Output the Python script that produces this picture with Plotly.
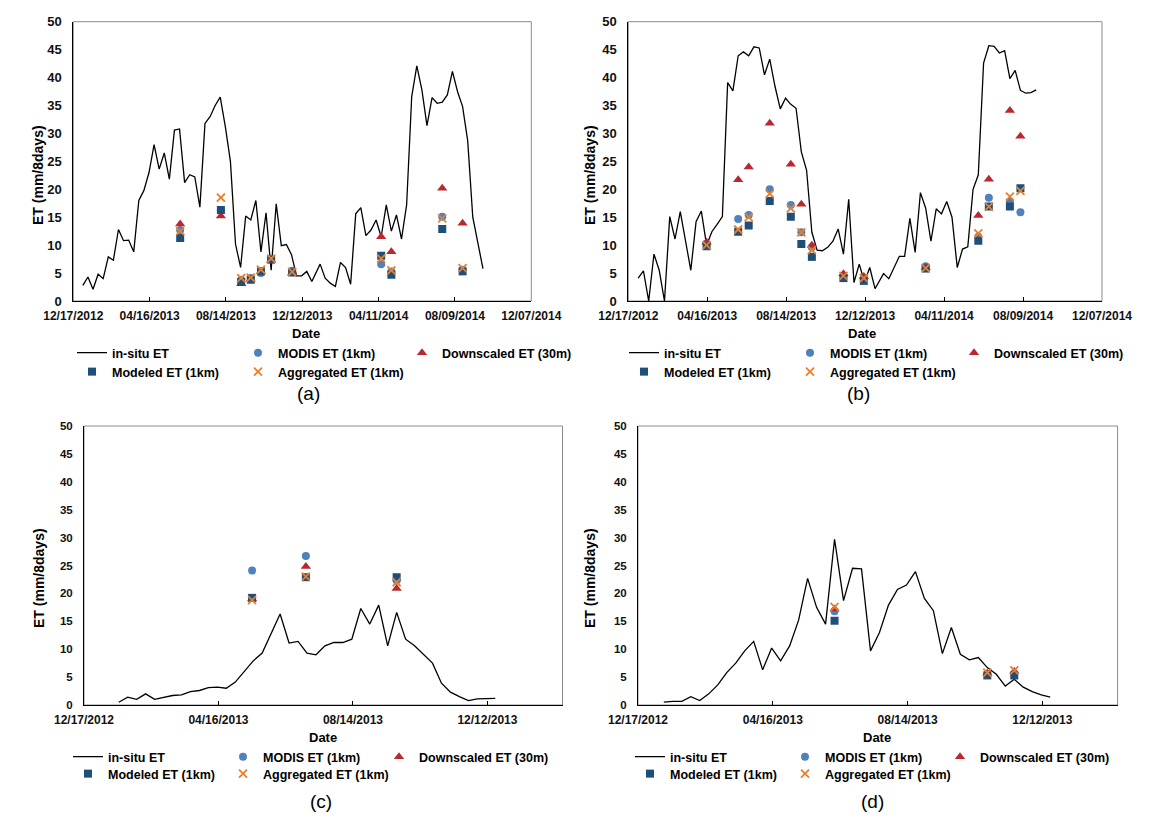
import plotly.graph_objects as go

# page body has an 8px default margin, so the figure is drawn 8px in from the top-left corner
PAGE_OFF = 8
W, H = 1155 - PAGE_OFF, 826 - PAGE_OFF

# ---------------- data ----------------
# 8-day composite dates
dates_2013 = ["2013-01-01", "2013-01-09", "2013-01-17", "2013-01-25", "2013-02-02", "2013-02-10",
              "2013-02-18", "2013-02-26", "2013-03-06", "2013-03-14", "2013-03-22", "2013-03-30",
              "2013-04-07", "2013-04-15", "2013-04-23", "2013-05-01", "2013-05-09", "2013-05-17",
              "2013-05-25", "2013-06-02", "2013-06-10", "2013-06-18", "2013-06-26", "2013-07-04",
              "2013-07-12", "2013-07-20", "2013-07-28", "2013-08-05", "2013-08-13", "2013-08-21",
              "2013-08-29", "2013-09-06", "2013-09-14", "2013-09-22", "2013-09-30", "2013-10-08",
              "2013-10-16", "2013-10-24", "2013-11-01", "2013-11-09", "2013-11-17", "2013-11-25",
              "2013-12-03", "2013-12-11", "2013-12-19", "2013-12-27"]
dates_2014 = ["2014-01-09", "2014-01-17", "2014-01-25", "2014-02-02", "2014-02-10", "2014-02-18",
              "2014-02-26", "2014-03-06", "2014-03-14", "2014-03-22", "2014-03-30", "2014-04-07",
              "2014-04-15", "2014-04-23", "2014-05-01", "2014-05-09", "2014-05-17", "2014-05-25",
              "2014-06-02", "2014-06-10", "2014-06-18", "2014-06-26", "2014-07-04", "2014-07-12",
              "2014-07-20", "2014-07-28", "2014-08-05", "2014-08-13", "2014-08-21", "2014-08-29",
              "2014-09-06", "2014-09-14", "2014-09-22"]

# (a)
insitu_a_2013 = [2.8, 4.3, 2.1, 4.8, 4.0, 7.9, 7.3, 12.8, 10.8, 10.9, 8.8, 18.0, 19.8, 23.0, 28.0, 23.6,
                 26.5, 21.8, 30.6, 30.8, 21.2, 22.6, 22.2, 16.8, 31.8, 33.0, 35.0, 36.5, 31.2, 25.0,
                 10.2, 6.0, 15.2, 14.5, 18.0, 8.8, 15.8, 5.5, 17.4, 9.9, 10.1, 8.3, 4.5, 4.5, 5.3, 3.5]
insitu_a_2014 = [6.6, 4.1, 3.2, 2.6, 6.9, 6.0, 3.0, 15.6, 16.7, 11.7, 12.7, 14.5, 11.5, 17.2, 12.5,
                 15.4, 11.1, 17.2, 36.6, 42.1, 37.8, 31.4, 36.4, 35.4, 35.6, 36.9, 41.1, 37.5, 34.8,
                 28.7, 15.0, 10.6, 5.8]
obs_dates_a = ["2013-06-03", "2013-08-06", "2013-09-07", "2013-09-22", "2013-10-08", "2013-10-24",
               "2013-11-26", "2014-04-15", "2014-05-01", "2014-07-20", "2014-08-21"]
modis_a = [12.7, 16.2, 3.8, 4.1, 5.0, 7.5, 5.4, 6.6, 5.3, 15.1, 5.6]
downscaled_a = [13.8, 15.2, 3.1, 3.9, 5.3, 7.3, 5.0, 11.5, 8.8, 20.2, 13.9]
modeled_a = [11.3, 16.3, 3.4, 3.8, 5.3, 7.4, 5.1, 8.1, 4.7, 12.9, 5.3]
aggregated_a = [12.5, 18.5, 4.1, 4.2, 5.6, 7.6, 5.2, 7.6, 5.5, 14.8, 5.9]

# (b)
insitu_b_2013 = [4.1, 5.4, 0.0, 8.4, 5.5, 0.0, 15.1, 11.1, 16.0, 10.6, 5.5, 14.2, 16.1, 10.0, 12.4, 13.7,
                 15.1, 39.1, 37.6, 43.9, 44.6, 43.9, 45.5, 45.3, 40.5, 43.3, 38.4, 34.4, 36.3, 35.2,
                 34.5, 26.7, 23.4, 12.3, 9.1, 9.0, 9.6, 10.7, 12.9, 8.4, 18.2, 3.3, 6.6, 3.4, 6.0, 2.2]
insitu_b_2014 = [4.9, 4.0, 6.0, 8.0, 8.0, 14.8, 8.7, 19.4, 16.6, 10.7, 16.5, 15.6, 17.8, 15.0, 6.0,
                 9.3, 9.7, 20.0, 22.6, 42.6, 45.7, 45.6, 44.4, 44.8, 39.8, 41.3, 37.7, 37.2, 37.3, 37.8]
obs_dates_b = ["2013-04-15", "2013-06-02", "2013-06-18", "2013-07-20", "2013-08-21", "2013-09-06",
               "2013-09-22", "2013-11-09", "2013-12-10", "2014-03-14", "2014-06-02", "2014-06-18",
               "2014-07-20", "2014-08-05"]
modis_b = [10.3, 14.7, 15.4, 20.0, 17.2, 12.3, 9.6, 4.5, 3.9, 6.2, 11.5, 18.5, 17.8, 15.9]
downscaled_b = [10.5, 21.7, 24.0, 31.8, 24.5, 17.3, 10.0, 4.9, 4.4, 6.0, 15.3, 21.8, 34.1, 29.5]
modeled_b = [9.8, 12.4, 13.5, 17.9, 15.1, 10.2, 7.9, 4.1, 3.6, 5.8, 10.8, 16.9, 16.9, 20.2]
aggregated_b = [10.0, 12.8, 15.0, 19.2, 16.6, 12.3, 9.1, 4.5, 4.1, 5.9, 12.1, 16.9, 18.7, 19.7]

# (c)  (in-situ from 2013-01-17 to 2013-12-19)
insitu_c = [0.5, 1.4, 1.0, 2.0, 1.0, 1.4, 1.7, 1.8, 2.4, 2.6, 3.1, 3.2, 3.0, 4.1, 6.0, 7.9, 9.3, 12.8,
            16.3, 11.1, 11.4, 9.3, 9.0, 10.6, 11.2, 11.2, 11.8, 17.3, 14.5, 17.9, 10.6, 16.6, 11.8,
            10.6, 9.1, 7.5, 3.9, 2.3, 1.5, 0.8, 1.1, 1.2, 1.2]
obs_dates_c = ["2013-05-16", "2013-07-03", "2013-09-22"]
modis_c = [24.1, 26.7, 22.3]
downscaled_c = [19.0, 24.8, 20.9]
modeled_c = [19.2, 22.9, 22.9]
aggregated_c = [18.8, 23.0, 22.0]

# (d)  (in-situ from 2013-01-09 to 2013-12-19)
insitu_d = [0.5, 0.65, 0.65, 1.5, 0.8, 2.0, 3.6, 5.8, 7.5, 9.7, 11.4, 6.3, 10.2, 7.9, 10.6, 15.2, 22.7,
            17.5, 14.5, 29.7, 18.7, 24.5, 24.4, 9.7, 13.0, 17.9, 20.7, 21.5, 23.9, 19.1, 16.9, 9.2,
            13.9, 9.1, 8.1, 8.5, 6.7, 5.5, 3.4, 4.6, 3.2, 2.4, 1.8, 1.4]
obs_dates_d = ["2013-06-10", "2013-10-24", "2013-11-17"]
modis_d = [16.8, 5.5, 5.6]
downscaled_d = [17.2, 5.7, 6.0]
modeled_d = [15.1, 5.3, 5.3]
aggregated_d = [17.6, 5.8, 6.2]

tick_dates = ["2012-12-17", "2013-04-16", "2013-08-14", "2013-12-12", "2014-04-11", "2014-08-09", "2014-12-07"]
tick_labels = ["12/17/2012", "04/16/2013", "08/14/2013", "12/12/2013", "04/11/2014", "08/09/2014", "12/07/2014"]
y_ticks = [0, 5, 10, 15, 20, 25, 30, 35, 40, 45, 50]

series_names = ["in-situ ET", "MODIS ET (1km)", "Downscaled ET (30m)", "Modeled ET (1km)", "Aggregated ET (1km)"]
panel_labels = ["(a)", "(b)", "(c)", "(d)"]

# ---------------- layout helpers ----------------
FONT = "Liberation Sans, Arial, sans-serif"
C_MODIS = "#4F81BD"
C_DOWN = "#B8282F"
C_MOD = "#1F4E79"
C_AGG = "#E6802E"


def fx(p):
    return (p - PAGE_OFF) / W


def fy(p):
    return 1 - (p - PAGE_OFF) / H


panels = [
    dict(line_x=dates_2013 + dates_2014, line_y=insitu_a_2013 + insitu_a_2014, obs=obs_dates_a,
         modis=modis_a, down=downscaled_a, mod=modeled_a, agg=aggregated_a,
         box=(73.3, 531.3, 21.7, 301.0), xend="2014-12-07", nt=7,
         ytitle=(38, 175), date=(306, 333), leg_rows=(353, 372), leg_cols=(112, 278, 442),
         lab=(308, 393), yfs=13),
    dict(line_x=dates_2013 + dates_2014[:30], line_y=insitu_b_2013 + insitu_b_2014, obs=obs_dates_b,
         modis=modis_b, down=downscaled_b, mod=modeled_b, agg=aggregated_b,
         box=(628.3, 1102.0, 21.7, 301.0), xend="2014-12-07", nt=7,
         ytitle=(590, 175), date=(862, 333), leg_rows=(353, 372), leg_cols=(664, 830, 994),
         lab=(858, 393), yfs=13),
    dict(line_x=dates_2013[2:45], line_y=insitu_c, obs=obs_dates_c,
         modis=modis_c, down=downscaled_c, mod=modeled_c, agg=aggregated_c,
         box=(84.0, 562.5, 426.0, 705.0), xend="2014-02-17", nt=4,
         ytitle=(39, 578), date=(323, 737), leg_rows=(757, 774), leg_cols=(108, 263, 419),
         lab=(321, 801), yfs=11.5),
    dict(line_x=dates_2013[1:45], line_y=insitu_d, obs=obs_dates_d,
         modis=modis_d, down=downscaled_d, mod=modeled_d, agg=aggregated_d,
         box=(638.0, 1117.6, 426.0, 705.0), xend="2014-02-17", nt=4,
         ytitle=(590, 578), date=(877, 737), leg_rows=(757, 774), leg_cols=(670, 825, 980),
         lab=(872, 801), yfs=11.5),
]

fig = go.Figure()
layout = dict(width=W, height=H, autosize=False,
              margin=dict(l=0, r=0, t=0, b=0, pad=0, autoexpand=False),
              paper_bgcolor="white", plot_bgcolor="white", showlegend=True)
annotations = []
shapes = []
leg_idx = 0

for i, p in enumerate(panels):
    n = "" if i == 0 else str(i + 1)
    xa, ya = "x" + n, "y" + n
    left, right, top, bottom = p["box"]
    layout["xaxis" + n] = dict(
        domain=[fx(left), fx(right)], anchor=ya, type="date",
        range=["2012-12-17", p["xend"]],
        tickmode="array", tickvals=tick_dates[:p["nt"]], ticktext=tick_labels[:p["nt"]],
        showgrid=False, zeroline=False, showline=True, linecolor="black", linewidth=1,
        ticks="inside", ticklen=4, tickcolor="black", automargin=False, ticklabelstandoff=4,
        tickfont=dict(family=FONT, size=12, color="#111111", weight="bold"),
        fixedrange=True,
    )
    layout["yaxis" + n] = dict(
        domain=[fy(bottom), fy(top)], anchor=xa, range=[0, 50],
        tickmode="array", tickvals=y_ticks,
        showgrid=False, zeroline=False, showline=True, linecolor="black", linewidth=1,
        ticks="", ticklabelstandoff=8, automargin=False,
        tickfont=dict(family=FONT, size=p["yfs"], color="#111111", weight="bold"),
        fixedrange=True,
    )
    shapes.append(dict(type="rect", xref="paper", yref="paper",
                       x0=fx(left), x1=fx(right), y0=fy(bottom), y1=fy(top),
                       line=dict(color="#8C8C8C", width=1), layer="below"))

    traces = [
        go.Scatter(x=p["line_x"], y=p["line_y"], mode="lines", name=series_names[0],
                   line=dict(color="black", width=1.3)),
        go.Scatter(x=p["obs"], y=p["modis"], mode="markers", name=series_names[1],
                   marker=dict(symbol="circle", size=8, color=C_MODIS)),
        go.Scatter(x=p["obs"], y=p["down"], mode="markers", name=series_names[2],
                   marker=dict(symbol="triangle-up", size=9, color=C_DOWN)),
        go.Scatter(x=p["obs"], y=p["mod"], mode="markers", name=series_names[3],
                   marker=dict(symbol="square", size=8, color=C_MOD)),
        go.Scatter(x=p["obs"], y=p["agg"], mode="markers", name=series_names[4],
                   marker=dict(symbol="x-thin", size=8, color=C_AGG,
                               line=dict(color=C_AGG, width=1.8))),
    ]
    r1, r2 = p["leg_rows"]
    c1, c2, c3 = p["leg_cols"]
    leg_pos = [(c1, r1), (c2, r1), (c3, r1), (c1, r2), (c2, r2)]
    for t, (lx, ly) in zip(traces, leg_pos):
        leg_idx += 1
        lname = "legend" if leg_idx == 1 else "legend%d" % leg_idx
        t.update(xaxis=xa, yaxis=ya, legend=lname, hoverinfo="x+y")
        fig.add_trace(t)
        layout[lname] = dict(x=fx(lx - 40), y=fy(ly), xanchor="left", yanchor="middle",
                             bgcolor="rgba(0,0,0,0)", borderwidth=0, itemclick=False,
                             itemdoubleclick=False,
                             font=dict(family=FONT, size=12.5, color="black", weight="bold"))

    # axis titles & panel label
    tx, ty = p["ytitle"]
    annotations.append(dict(text="ET (mm/8days)", x=fx(tx), y=fy(ty), xref="paper", yref="paper",
                            showarrow=False, textangle=-90, xanchor="center", yanchor="middle",
                            font=dict(family=FONT, size=14, color="black", weight="bold")))
    dx, dy = p["date"]
    annotations.append(dict(text="Date", x=fx(dx), y=fy(dy), xref="paper", yref="paper",
                            showarrow=False, xanchor="center", yanchor="middle",
                            font=dict(family=FONT, size=13, color="black", weight="bold")))
    lx, ly = p["lab"]
    annotations.append(dict(text=panel_labels[i], x=fx(lx), y=fy(ly), xref="paper", yref="paper",
                            showarrow=False, xanchor="center", yanchor="middle",
                            font=dict(family=FONT, size=19, color="black")))

layout["annotations"] = annotations
layout["shapes"] = shapes
fig.update_layout(**layout)
fig.write_html("out.html")
